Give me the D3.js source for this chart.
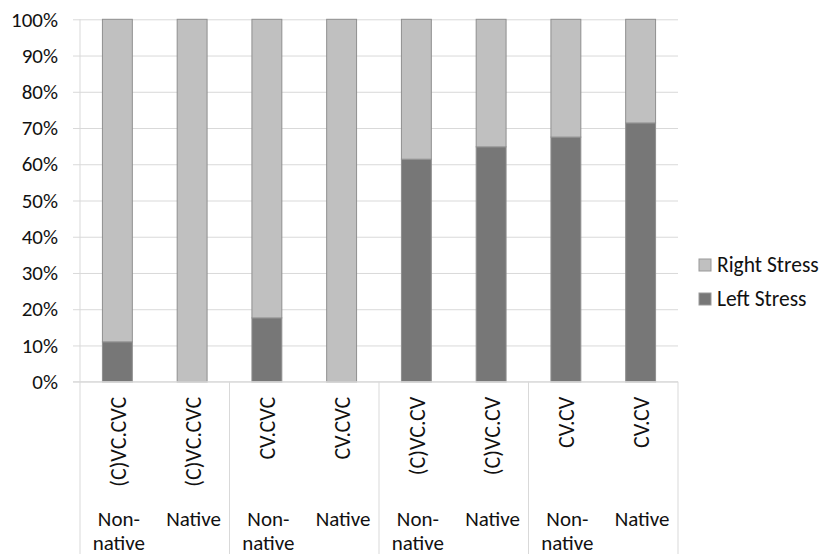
<!DOCTYPE html>
<html>
<head>
<meta charset="utf-8">
<script src="https://cdn.jsdelivr.net/npm/d3@7"></script>
<style>
  html, body { margin: 0; padding: 0; background: #fff; }
  svg { display: block; font-family: Carlito, Calibri, Lato, sans-serif; }
</style>
</head>
<body>
<svg id="chart" width="823" height="554"></svg>
<script>
// Syllable structure per speaker group
const categories = ["(C)VC.CVC", "(C)VC.CVC", "CV.CVC", "CV.CVC", "(C)VC.CV", "(C)VC.CV", "CV.CV", "CV.CV"];
const speakers = ["Non-native", "Native", "Non-native", "Native", "Non-native", "Native", "Non-native", "Native"];
// Share of responses (%)
const leftStress  = [11, 0, 17.6, 0, 61.4, 64.8, 67.5, 71.4];
const rightStress = leftStress.map(v => 100 - v);
const seriesNames = ["Left Stress", "Right Stress"];
const legendOrder = ["Right Stress", "Left Stress"];
const yTicks = [0, 10, 20, 30, 40, 50, 60, 70, 80, 90, 100];

const colors = { "Left Stress": "#777777", "Right Stress": "#c0c0c0" };
const FONT = "Carlito, Calibri, Lato, sans-serif";

const svg = d3.select("#chart");
const margin = { left: 80, right: 145, top: 19.3, bottom: 172.3 };
const W = 823, H = 554;
const x0 = margin.left, x1 = W - margin.right;
const yTop = margin.top, yBot = H - margin.bottom;

const rows = categories.map((c, i) => ({
  key: i, cat: c, spk: speakers[i],
  "Left Stress": leftStress[i], "Right Stress": rightStress[i]
}));

const x = d3.scaleBand().domain(rows.map(d => d.key)).range([x0, x1])
  .paddingInner(0.6).paddingOuter(0.3);
const y = d3.scaleLinear().domain([0, 100]).range([yBot, yTop]);

// gridlines with short ticks to the left of the value axis
const yAxis = d3.axisLeft(y).tickValues(yTicks).tickFormat(d => d + "%")
  .tickSize(-(x1 - x0)).tickPadding(22);
const gy = svg.append("g").attr("transform", `translate(${x0},0)`).call(yAxis);
gy.select(".domain").remove();
gy.selectAll(".tick line").attr("stroke", "#d9d9d9").attr("x1", -7);
gy.selectAll(".tick text").attr("fill", "#111").style("font-size", "21px")
  .style("font-family", FONT);

// value axis line, extending down through the category area
svg.append("line").attr("x1", x0).attr("x2", x0).attr("y1", yTop).attr("y2", H)
  .attr("stroke", "#d9d9d9");

// stacked bars
const stacked = d3.stack().keys(seriesNames)(rows);
svg.append("g").selectAll("g").data(stacked).join("g")
  .attr("fill", s => colors[s.key])
  .selectAll("rect").data(s => s.filter(d => d[1] - d[0] > 0)).join("rect")
  .attr("x", d => x(d.data.key))
  .attr("width", x.bandwidth())
  .attr("y", d => y(d[1]))
  .attr("height", d => y(d[0]) - y(d[1]))
  .attr("stroke", "#8f8f8f").attr("stroke-width", 1);

// category axis baseline
svg.append("line").attr("x1", x0 - 7).attr("x2", x1).attr("y1", yBot).attr("y2", yBot)
  .attr("stroke", "#d9d9d9");

// group separators every two categories
const step = x.step();
d3.range(2, categories.length + 1, 2).forEach(i => {
  const xs = x0 + step * i;
  svg.append("line").attr("x1", xs).attr("x2", xs).attr("y1", yBot).attr("y2", H)
    .attr("stroke", "#d9d9d9");
});

// rotated syllable-structure labels
svg.append("g").selectAll("text").data(rows).join("text")
  .attr("transform", d => `translate(${x(d.key) + x.bandwidth() / 2 + 8.5},${yBot + 15}) rotate(-90)`)
  .attr("text-anchor", "end")
  .attr("fill", "#111")
  .style("font-size", "22px")
  .text(d => d.cat);

// speaker-group labels, wrapped after the hyphen
const spk = svg.append("g").selectAll("text").data(rows).join("text")
  .attr("text-anchor", "middle")
  .attr("fill", "#111")
  .style("font-size", "21px");
spk.each(function (d) {
  const parts = d.spk.includes("-") ? [d.spk.split("-")[0] + "-", d.spk.split("-")[1]] : [d.spk];
  const cx = x(d.key) + x.bandwidth() / 2 + 1.5;
  d3.select(this).selectAll("tspan").data(parts).join("tspan")
    .attr("x", cx)
    .attr("y", (p, j) => 526 + j * 23.5)
    .text(p => p);
});

// legend
const lg = svg.append("g").selectAll("g").data(legendOrder).join("g")
  .attr("transform", (d, i) => `translate(699,${259 + i * 34})`);
lg.append("rect").attr("width", 12).attr("height", 12)
  .attr("fill", d => colors[d]).attr("stroke", "#999");
lg.append("text").attr("x", 18).attr("y", 13)
  .attr("fill", "#111").style("font-size", "21.5px").text(d => d);
</script>
</body>
</html>
